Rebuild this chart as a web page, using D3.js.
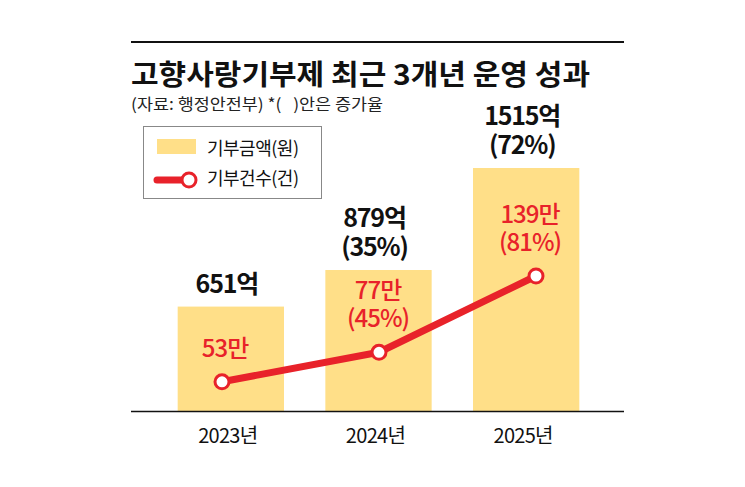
<!DOCTYPE html>
<html>
<head>
<meta charset="utf-8">
<script src="https://cdn.jsdelivr.net/npm/d3@7"></script>
<style>
  html, body { margin: 0; padding: 0; background: #fff; }
  #chart { width: 745px; height: 487px; }
  text { font-family: "Noto Sans CJK KR", "Noto Sans", sans-serif; white-space: pre; }
</style>
</head>
<body>
<div id="chart"></div>
<script>
// 고향사랑기부제 최근 3개년 운영 성과 · bars = 기부금액, line = 기부건수
var years = ['2023년', '2024년', '2025년'];
var amount = [651, 879, 1515];              // 억 원
var amountGrowth = [null, 35, 72];          // %
var count = [53, 77, 139];                  // 만 건
var countGrowth = [null, 45, 81];           // %

var titleText = '고향사랑기부제 최근 3개년 운영 성과';
var subText = '(자료: 행정안전부) *(   )안은 증가율';
var legendLabels = ['기부금액(원)', '기부건수(건)'];

(function () {
    var W = 745, H = 487;
    var yellow = '#ffdf88';
    var red = '#e8222a';

    var svg = d3.select('#chart').append('svg')
        .attr('width', W).attr('height', H)
        .attr('viewBox', '0 0 ' + W + ' ' + H);

    // Plot frame
    var left = 131, right = 624, base = 411;

    // Top rule + title block
    svg.append('line')
        .attr('x1', left).attr('x2', right)
        .attr('y1', 42).attr('y2', 42)
        .attr('stroke', '#111').attr('stroke-width', 2);
    svg.append('text')
        .attr('x', left).attr('y', 85)
        .attr('font-size', 28).attr('font-weight', 700)
        .attr('fill', '#111')
        .attr('textLength', 459).attr('lengthAdjust', 'spacingAndGlyphs')
        .text(titleText);
    svg.append('text')
        .attr('x', left).attr('y', 110)
        .attr('font-size', 16).attr('fill', '#222')
        .attr('xml:space', 'preserve')
        .attr('textLength', 252).attr('lengthAdjust', 'spacingAndGlyphs')
        .text(subText);

    // Scales
    var x = d3.scaleBand().domain(years).range([157, 600]).paddingInner(0.28).paddingOuter(0.14);
    var y = d3.scaleLinear().domain([0, 1515]).range([base, 168]);
    var xl = d3.scalePoint().domain(years).range([222, 536]);
    var yl = d3.scaleLinear().domain([0, 139]).range([447, 276]);

    // Bars
    svg.append('g').selectAll('rect')
        .data(amount)
        .join('rect')
        .attr('x', function (d, i) { return x(years[i]); })
        .attr('y', function (d) { return y(d); })
        .attr('width', x.bandwidth())
        .attr('height', function (d) { return base - y(d); })
        .attr('fill', yellow);

    // Baseline
    svg.append('line')
        .attr('x1', left).attr('x2', right)
        .attr('y1', base + 0.5).attr('y2', base + 0.5)
        .attr('stroke', '#111').attr('stroke-width', 1.5);

    // Year labels
    svg.append('g').selectAll('text')
        .data(years)
        .join('text')
        .attr('x', function (d) { return x(d) + x.bandwidth() / 2 - 3; })
        .attr('y', 443)
        .attr('text-anchor', 'middle')
        .attr('font-size', 20).attr('fill', '#111')
        .attr('letter-spacing', -0.7)
        .text(function (d) { return d; });

    // Two-line label as a single text element with tspans
    function stackLabel(cx, top, lines, gap, opts) {
        var t = svg.append('text')
            .attr('x', cx).attr('y', top)
            .attr('text-anchor', 'middle')
            .attr('font-size', opts.size).attr('font-weight', opts.weight)
            .attr('letter-spacing', opts.ls)
            .attr('fill', opts.color);
        lines.forEach(function (s, k) {
            t.append('tspan')
                .attr('x', cx)
                .attr('dy', k === 0 ? 0 : gap)
                .text(s);
        });
    }

    // Amount labels (black, above bars)
    amount.forEach(function (v, i) {
        var cx = x(years[i]) + x.bandwidth() / 2 - 4;
        var lines = [v + '억'];
        if (amountGrowth[i] != null) lines.push('(' + amountGrowth[i] + '%)');
        var top = y(v) - 14 - (lines.length - 1) * 29;
        stackLabel(cx, top, lines, 29, { size: 25, weight: 700, ls: -1.2, color: '#111' });
    });

    // Count line
    var line = d3.line()
        .x(function (d, i) { return xl(years[i]); })
        .y(function (d) { return yl(d); });
    svg.append('path')
        .datum(count)
        .attr('d', line)
        .attr('fill', 'none')
        .attr('stroke', red).attr('stroke-width', 7)
        .attr('stroke-linejoin', 'round');
    svg.append('g').selectAll('circle')
        .data(count)
        .join('circle')
        .attr('cx', function (d, i) { return xl(years[i]); })
        .attr('cy', function (d) { return yl(d); })
        .attr('r', 7)
        .attr('fill', '#fff')
        .attr('stroke', red).attr('stroke-width', 3);

    // Count labels (red)
    var countLabelCx = [225, 378, 530];
    count.forEach(function (v, i) {
        var lines = [v + '만'];
        if (countGrowth[i] != null) lines.push('(' + countGrowth[i] + '%)');
        var top = yl(v) - 25 - (lines.length - 1) * 28;
        stackLabel(countLabelCx[i], top, lines, 28, { size: 24, weight: 500, ls: -1, color: red });
    });

    // Legend
    var lg = svg.append('g');
    lg.append('rect')
        .attr('x', 143.5).attr('y', 126.5)
        .attr('width', 178).attr('height', 72)
        .attr('fill', '#fff').attr('stroke', '#888').attr('stroke-width', 1);
    lg.append('rect')
        .attr('x', 157).attr('y', 139).attr('width', 39).attr('height', 15)
        .attr('fill', yellow);
    lg.append('line')
        .attr('x1', 157).attr('x2', 186).attr('y1', 180).attr('y2', 180)
        .attr('stroke', red).attr('stroke-width', 7).attr('stroke-linecap', 'round');
    lg.append('circle')
        .attr('cx', 189).attr('cy', 180).attr('r', 7)
        .attr('fill', '#fff').attr('stroke', red).attr('stroke-width', 3);
    legendLabels.forEach(function (s, i) {
        lg.append('text')
            .attr('x', 207).attr('y', 155 + i * 30)
            .attr('font-size', 18).attr('fill', '#111')
            .attr('letter-spacing', -0.5)
            .text(s);
    });
})();
</script>
</body>
</html>
